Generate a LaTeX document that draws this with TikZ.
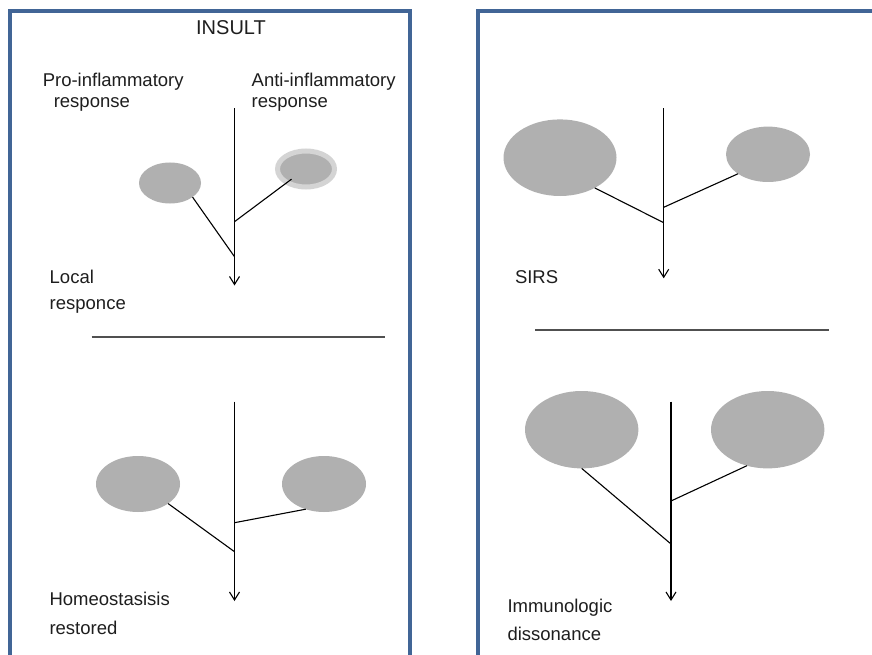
\documentclass[tikz,border=0pt]{standalone}
\usepackage{fontspec}
\setmainfont{Liberation Sans}
\usetikzlibrary{arrows.meta,shapes.geometric,calc}
\definecolor{frameblue}{RGB}{65,101,150}
\definecolor{blobgray}{RGB}{176,176,176}
\definecolor{ringgray}{RGB}{212,212,212}
\definecolor{rulegray}{RGB}{80,80,80}
\definecolor{inkgray}{RGB}{30,30,30}
\begin{document}
\begin{tikzpicture}[x=1pt,y=-1pt,
  panel/.style={draw=frameblue,line width=4pt},
  blob/.style={ellipse,fill=blobgray,inner sep=0pt,outer sep=0pt},
  ringblob/.style={blob,draw=ringgray,line width=5pt},
  % multi-line labels sit on the baseline of their last line
  lbl/.style={anchor=base west,inner sep=0pt,align=left,text=inkgray,
    font=\fontsize{18.5}{#1}\selectfont},
  lbl/.default=21,
  flow/.style={draw=black,line width=1.2pt,-{Straight Barb[length=8pt,width=10pt,line width=1.1pt]}},
  branch/.style={draw=black,line width=1.1pt},
  divider/.style={draw=rulegray,line width=1.4pt}]
\clip (0,0) rectangle (872,655);
\fill[white] (0,0) rectangle (872,655);

% the two panels, open at the bottom and on the right
\draw[panel] (10,690) -- (10,11) -- (410,11) -- (410,690);
\draw[panel] (478,690) -- (478,11) -- (900,11);

% ---------------- left panel, upper part ----------------
\node[anchor=base,inner sep=0pt,text=inkgray,font=\fontsize{20}{24}\selectfont] (insult) at (231,35) {INSULT};
\node[lbl=20.6] (pro) at (42.6,107.3) {Pro-inflammatory\\\hspace*{11pt}response};
\node[lbl=20.6] (anti) at (251.5,107.3) {Anti-inflammatory\\response};

\coordinate (la-top) at (234.5,108.3);
\coordinate (la-end) at (234.5,285.5);
\coordinate (la-jp) at (234.5,256.7);
\coordinate (la-ja) at (234.5,221.7);
\node[blob,minimum width=62pt,minimum height=41pt] (la-pro) at (170,183) {};
\node[ringblob,minimum width=57pt,minimum height=36pt] (la-anti) at (306,169) {};
\draw[flow] (la-top) -- (la-end);
\draw[branch] (la-pro.-32) -- (la-jp);
\draw[branch] ($(la-anti.center)!0.76!(la-anti.215.8)$) -- (la-ja);
\node[lbl=26] (local) at (49.5,309.3) {Local\\responce};

\coordinate (ls-a) at (91.7,337);
\coordinate (ls-b) at (385,337);
\draw[divider] (ls-a) -- (ls-b);

% ---------------- left panel, lower part ----------------
\coordinate (lb-top) at (234.5,401.7);
\coordinate (lb-end) at (234.5,601);
\coordinate (lb-jp) at (234.5,551.7);
\coordinate (lb-ja) at (234.5,522.7);
\node[blob,minimum width=84pt,minimum height=56pt] (lb-pro) at (138,484) {};
\node[blob,minimum width=84pt,minimum height=56pt] (lb-anti) at (324,484) {};
\draw[flow] (lb-top) -- (lb-end);
\draw[branch] (lb-pro.-33) -- (lb-jp);
\draw[branch] (lb-anti.-126.5) -- (lb-ja);
\node[lbl=28.3] (homeo) at (49.3,634) {Homeostasisis\\restored};

% ---------------- right panel, upper part ----------------
\coordinate (ra-top) at (663.7,108.3);
\coordinate (ra-end) at (663.7,278.3);
\coordinate (ra-jp) at (663.7,222.7);
\coordinate (ra-ja) at (663.7,207.3);
\node[blob,minimum width=113pt,minimum height=76.6pt] (ra-pro) at (560,157.7) {};
\node[blob,minimum width=84pt,minimum height=55.4pt] (ra-anti) at (768,154.3) {};
\draw[flow] (ra-top) -- (ra-end);
\draw[branch] (ra-pro.-41.6) -- (ra-jp);
\draw[branch] (ra-anti.-147.3) -- (ra-ja);
\node[lbl] (sirs) at (514.8,283.3) {SIRS};

\coordinate (rs-a) at (535,330);
\coordinate (rs-b) at (829,330);
\draw[divider] (rs-a) -- (rs-b);

% ---------------- right panel, lower part ----------------
\coordinate (rb-top) at (671,401.7);
\coordinate (rb-end) at (671,601);
\coordinate (rb-jp) at (671,544);
\coordinate (rb-ja) at (671,501);
\node[blob,minimum width=113.4pt,minimum height=77.4pt] (rb-pro) at (581.7,429.7) {};
\node[blob,minimum width=113.4pt,minimum height=77.4pt] (rb-anti) at (767.7,429.7) {};
\draw[flow] (rb-top) -- (rb-end);
\draw[branch] (rb-pro.-90) -- (rb-jp);
\draw[branch] (rb-anti.-120.3) -- (rb-ja);
\node[lbl=27.3] (immuno) at (507.3,640) {Immunologic\\dissonance};
\end{tikzpicture}
\end{document}
